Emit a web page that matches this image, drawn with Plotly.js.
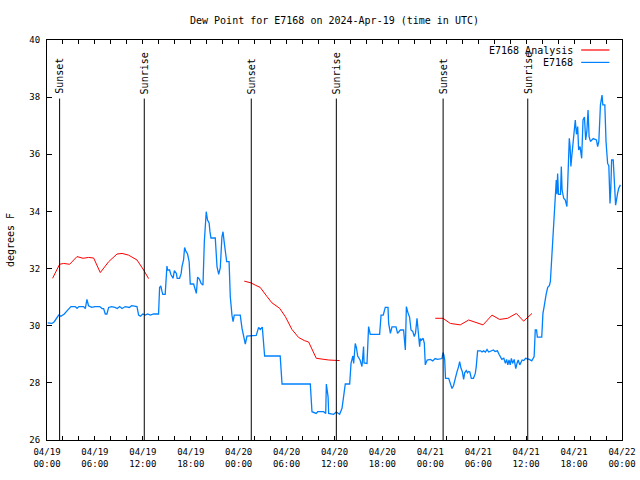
<!DOCTYPE html>
<html>
<head>
<meta charset="utf-8">
<script src="https://cdn.plot.ly/plotly-3.0.1.min.js"></script>
<style>html,body{margin:0;padding:0;background:#fff;}#chart{width:640px;height:480px;}</style>
</head>
<body>
<div id="chart"></div>
<script>
// Hours since 2024-04-19 00:00 UTC
const baseTimeMs = Date.UTC(2024, 3, 19, 0, 0);

const observedHours = [0.08,0.63,0.91,1.46,1.75,2.17,2.5,3.0,3.54,3.76,4.0,4.59,4.8,5.0,5.2,5.6,6.0,6.6,6.9,7.09,7.3,7.5,7.72,8.1,8.5,8.8,9.1,9.4,9.8,10.3,10.6,11.27,11.47,11.7,12.0,12.3,12.6,12.93,13.35,13.97,14.1,14.25,14.4,14.5,14.8,14.94,15.02,15.1,15.35,15.5,15.78,15.95,16.2,16.3,16.6,16.8,16.9,17.1,17.23,17.4,17.6,17.8,17.94,18.36,18.56,18.7,18.86,19.1,19.3,19.53,19.7,19.94,20.1,20.3,20.4,20.53,21.07,21.29,21.5,21.7,21.9,22.04,22.2,22.5,22.8,22.95,23.16,23.3,23.45,24.2,24.42,24.7,24.83,25.04,25.67,26.2,26.5,26.7,26.96,27.12,27.25,27.6,29.2,29.43,32.97,33.18,33.7,33.9,34.64,34.9,34.98,35.2,35.27,35.89,36.22,36.64,36.94,37.14,37.35,37.9,38.07,38.3,38.4,38.6,38.75,38.9,39.2,39.44,39.64,39.7,40.07,40.27,40.48,41.65,41.83,42.1,42.36,42.7,42.78,43.0,43.2,43.7,43.9,44.24,44.65,44.87,45.0,45.2,45.4,45.58,45.8,45.99,46.15,46.33,46.5,46.66,46.75,46.9,47.1,47.25,47.37,47.6,48.0,48.3,48.6,48.9,49.46,49.59,49.7,49.8,49.9,50.3,50.5,50.71,50.9,51.1,51.34,51.54,51.67,51.85,52.0,52.17,52.3,52.5,52.65,52.8,52.95,53.13,53.4,53.63,53.75,53.92,54.3,54.47,54.67,54.9,55.1,55.3,55.6,55.9,56.1,56.4,56.6,56.76,56.95,57.2,57.4,57.55,57.7,57.85,58.0,58.15,58.3,58.5,58.7,58.85,59.0,59.2,59.35,59.5,59.7,59.93,60.4,60.7,61.0,61.14,61.3,61.4,61.95,62.1,62.25,62.4,62.5,62.7,62.9,63.03,63.24,63.36,63.44,63.56,63.65,63.77,63.85,63.94,64.05,64.3,64.4,64.5,64.7,64.9,65.1,65.3,65.4,65.5,65.6,65.7,65.84,66.03,66.15,66.3,66.45,66.57,66.75,66.95,67.12,67.3,67.45,67.6,67.75,67.88,68.05,68.4,68.8,68.95,69.1,69.3,69.5,69.6,69.85,70.0,70.2,70.35,70.45,70.5,70.6,70.7,70.9,71.1,71.2,71.45,71.58,71.8];
const observedDewPoint = [30.10,30.08,30.14,30.37,30.33,30.41,30.52,30.67,30.67,30.61,30.67,30.67,30.60,30.92,30.70,30.64,30.67,30.67,30.60,30.60,30.41,30.41,30.64,30.67,30.64,30.60,30.67,30.60,30.67,30.64,30.70,30.67,30.37,30.33,30.41,30.37,30.41,30.37,30.41,30.41,31.34,31.39,31.20,31.10,31.10,31.83,32.09,31.95,31.95,31.80,31.66,31.93,31.83,31.66,31.66,31.83,32.07,32.30,32.74,32.60,32.51,32.24,31.46,31.46,31.27,31.13,31.70,31.62,31.48,31.42,32.94,33.99,33.70,33.60,33.30,33.07,33.07,32.07,31.80,32.03,33.10,33.29,32.90,32.24,32.24,31.02,30.37,30.14,30.37,30.37,29.91,29.45,29.36,29.64,29.66,29.66,29.94,29.87,29.95,29.45,28.94,28.94,28.94,27.96,27.96,26.99,26.93,26.99,26.99,26.93,27.96,27.50,26.93,26.90,26.98,26.90,27.11,27.52,27.96,27.96,28.68,28.94,28.68,29.38,29.22,28.94,28.80,28.57,29.27,28.70,28.68,29.97,29.70,29.70,30.37,30.37,30.64,30.64,30.08,29.73,29.96,29.96,29.73,29.85,29.85,29.15,30.67,30.45,30.30,29.85,29.80,29.62,29.75,30.26,29.85,29.27,29.55,29.50,29.56,29.38,28.63,28.80,28.82,28.77,28.85,28.82,28.85,29.06,28.97,28.80,28.16,28.16,27.98,27.80,27.90,28.16,28.39,28.57,28.74,28.50,28.40,28.12,28.35,28.43,28.35,28.40,28.38,28.16,28.16,28.33,28.57,29.12,29.12,29.08,29.12,29.08,29.17,29.08,29.12,29.15,29.10,29.12,29.00,28.90,28.82,28.86,28.68,28.82,28.63,28.80,28.63,28.86,28.68,28.82,28.50,28.68,28.80,28.63,28.72,28.80,28.78,28.86,28.82,28.77,28.92,29.85,29.85,29.60,29.60,30.43,30.67,31.02,31.10,31.34,31.40,31.54,32.53,33.12,33.70,34.11,34.75,35.10,34.60,35.33,34.60,34.60,35.57,34.75,34.46,34.40,34.17,35.92,36.56,36.27,35.57,35.90,36.30,36.97,37.20,36.70,36.97,36.15,36.27,35.86,37.20,37.30,36.50,36.80,37.55,36.62,36.45,36.55,36.50,36.27,36.45,37.73,38.07,37.73,37.73,36.44,35.68,35.60,34.75,34.28,34.80,35.80,35.80,34.52,34.22,34.63,34.80,34.93];

const analysisHours = [0.70,1.58,2.08,2.83,3.76,4.51,5.21,5.84,6.67,7.72,8.77,9.39,10.22,11.27,12.10,12.72,null,24.7,25.54,26.08,26.7,27.55,28.17,29.13,29.84,30.67,31.5,32.22,32.76,33.72,34.43,35.27,36.64,null,48.62,49.58,50.5,51.75,52.8,53.5,54.6,55.72,56.67,57.68,58.77,59.68,60.73];
const analysisDewPoint = [31.66,32.15,32.18,32.15,32.42,32.36,32.39,32.37,31.86,32.24,32.51,32.53,32.47,32.30,31.95,31.65,null,31.56,31.50,31.42,31.34,31.02,30.80,30.61,30.32,29.87,29.59,29.48,29.43,28.86,28.83,28.80,28.78,null,30.26,30.26,30.08,30.03,30.20,30.14,30.03,30.37,30.22,30.26,30.43,30.16,30.43];

const eventHours = [1.58, 12.18, 25.58, 36.23, 49.6, 60.2];
const eventLabels = ["Sunset", "Sunrise", "Sunset", "Sunrise", "Sunset", "Sunrise"];

const tickHours = [0,6,12,18,24,30,36,42,48,54,60,66,72];
const tickLabels = ["04/19<br>00:00","04/19<br>06:00","04/19<br>12:00","04/19<br>18:00","04/20<br>00:00","04/20<br>06:00","04/20<br>12:00","04/20<br>18:00","04/21<br>00:00","04/21<br>06:00","04/21<br>12:00","04/21<br>18:00","04/22<br>00:00"];

const seriesNames = ["E7168 Analysis", "E7168"];
const seriesColors = ["#ff0000", "#0080ff"];

const toTime = h => (h === null ? null : baseTimeMs + h * 3600000);

const mono = "DejaVu Sans Mono, monospace";

const traces = [
  {x: analysisHours.map(toTime), y: analysisDewPoint, type: "scatter", mode: "lines",
   name: seriesNames[0], line: {color: seriesColors[0], width: 1}, connectgaps: false},
  {x: observedHours.map(toTime), y: observedDewPoint, type: "scatter", mode: "lines",
   name: seriesNames[1], line: {color: seriesColors[1], width: 1.3}}
];

const shapes = eventHours.map(h => ({
  type: "line", xref: "x", yref: "y", x0: toTime(h), x1: toTime(h), y0: 26, y1: 37.95,
  line: {color: "#000", width: 1}
}));

const annotations = eventHours.map((h, i) => ({
  x: toTime(h), y: 38, xref: "x", yref: "y", text: eventLabels[i], showarrow: false,
  textangle: -90, xanchor: "center", yanchor: "bottom", yshift: 1,
  font: {family: mono, size: 10, color: "#000"}
}));

// manual legend (sample line on the right like the reference)
const legendRows = [0.975, 0.944];
seriesNames.forEach((n, i) => {
  annotations.push({xref: "paper", yref: "paper", x: 0.918, y: legendRows[i], text: n,
    showarrow: false, xanchor: "right", yanchor: "middle",
    font: {family: mono, size: 10, color: "#000"}});
  shapes.push({type: "line", xref: "paper", yref: "paper", x0: 0.929, x1: 0.978,
    y0: legendRows[i], y1: legendRows[i], line: {color: seriesColors[i], width: 1.2}});
});

const layout = {
  width: 640, height: 480,
  margin: {l: 47, r: 18, t: 40, b: 40, pad: 0},
  paper_bgcolor: "#fff", plot_bgcolor: "#fff",
  showlegend: false,
  title: {text: "Dew Point for E7168 on 2024-Apr-19 (time in UTC)", x: 0.5, xref: "paper",
          y: 1 - 20/480, yref: "container", yanchor: "middle",
          font: {family: mono, size: 10, color: "#000"}},
  xaxis: {
    type: "date", range: [toTime(0), toTime(72)],
    tickvals: tickHours.map(toTime), ticktext: tickLabels,
    ticks: "inside", ticklen: 4, tickcolor: "#000", mirror: "ticks",
    minor: {dtick: 7200000, ticks: "inside", ticklen: 4, tickcolor: "#000", showgrid: false},
    showline: true, linecolor: "#000", linewidth: 1, showgrid: false, zeroline: false,
    ticklabelstandoff: 3,
    tickfont: {family: mono, size: 9, color: "#000"}
  },
  yaxis: {
    range: [26, 40], dtick: 2, tick0: 26,
    ticks: "inside", ticklen: 5, tickcolor: "#000", mirror: "ticks",
    showline: true, linecolor: "#000", linewidth: 1, showgrid: false, zeroline: false,
    ticklabelstandoff: 4,
    tickfont: {family: mono, size: 9, color: "#000"},
    title: {text: "degrees F", font: {family: mono, size: 10, color: "#000"}, standoff: 12}
  },
  shapes: shapes,
  annotations: annotations
};

Plotly.newPlot("chart", traces, layout, {displayModeBar: false, staticPlot: true});
</script>
</body>
</html>
